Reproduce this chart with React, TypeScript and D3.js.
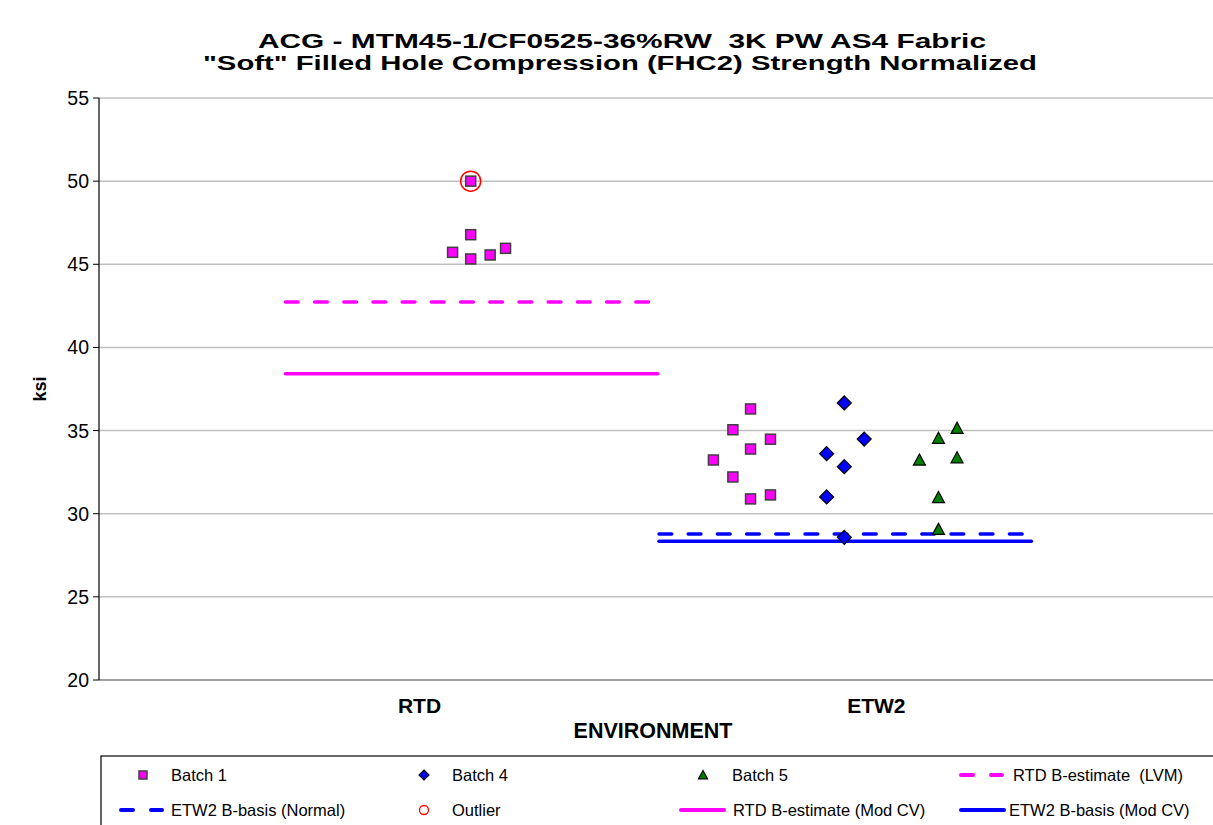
import React from "react";
import * as d3 from "d3";

// Environment categories and their position on the numeric x axis
const categories = ["RTD", "ETW2"];
const categoryX = [1, 2];
const yTicks = [20, 25, 30, 35, 40, 45, 50, 55];

// Batch 1 specimens (x position, strength ksi)
const batch1X = [1.073, 1.113, 1.113, 1.156, 1.19, 1.113, 1.649, 1.692, 1.692, 1.731, 1.731, 1.731, 1.775, 1.775];
const batch1Y = [45.72, 46.78, 45.32, 45.56, 45.96, 50.0, 33.23, 35.05, 32.21, 36.3, 33.89, 30.89, 34.48, 31.13];

// Batch 4 specimens
const batch4X = [1.899, 1.899, 1.938, 1.938, 1.938, 1.982];
const batch4Y = [33.61, 31.01, 36.66, 32.83, 28.58, 34.49];

// Batch 5 specimens
const batch5X = [2.104, 2.146, 2.146, 2.146, 2.187, 2.187];
const batch5Y = [33.23, 34.54, 30.97, 29.06, 35.14, 33.37];

// Outlier
const outlierX = [1.113];
const outlierY = [50.0];

// Basis values: [xStart, xEnd, value]
const rtdLvm = [0.70, 1.53, 42.73];
const rtdModCv = [0.70, 1.53, 38.42];
const etwNormal = [1.525, 2.355, 28.78];
const etwModCv = [1.525, 2.355, 28.34];

const W = 1213;
const H = 825;
const plotLeft = 99;
const plotRight = 1213;
const plotTop = 98;
const plotBottom = 680;

const MAGENTA = "#ff00ff";
const BLUE = "#0000ff";
const GREEN = "#008000";
const FONT = "Liberation Sans, Arial, sans-serif";

const x = d3.scaleLinear().domain([0.29, 2.75]).range([98, 1212]);
const y = d3.scaleLinear().domain([20, 55]).range([plotBottom, plotTop]);

const zip = (xs: number[], ys: number[]) => xs.map((v, i) => [v, ys[i]] as [number, number]);

function Square({ cx, cy, s = 10 }: { cx: number; cy: number; s?: number }) {
  return <rect x={cx - s / 2} y={cy - s / 2} width={s} height={s} fill={MAGENTA} stroke="#404040" strokeWidth={1.5} />;
}
function Diamond({ cx, cy, s = 7 }: { cx: number; cy: number; s?: number }) {
  return <path d={`M${cx},${cy - s}L${cx + s},${cy}L${cx},${cy + s}L${cx - s},${cy}Z`} fill={BLUE} stroke="#000" strokeWidth={1.2} />;
}
function Triangle({ cx, cy, s = 6 }: { cx: number; cy: number; s?: number }) {
  return (
    <path
      d={`M${cx},${cy - s}L${cx + s},${cy + s * 0.85}L${cx - s},${cy + s * 0.85}Z`}
      fill={GREEN}
      stroke="#000"
      strokeWidth={1.2}
    />
  );
}

function BasisLine({ spec, color, dashed }: { spec: number[]; color: string; dashed?: boolean }) {
  const [x0, x1, v] = spec;
  return (
    <line
      x1={x(x0) + 1.7}
      x2={x(x1) - 1.7}
      y1={y(v)}
      y2={y(v)}
      stroke={color}
      strokeWidth={3.4}
      strokeLinecap="round"
      strokeDasharray={dashed ? "12.8,16.4" : undefined}
    />
  );
}

export default function App() {
  const legendText = {
    fontFamily: FONT,
    fontSize: 16.5,
    fill: "#000",
    dominantBaseline: "central" as const,
    style: { whiteSpace: "pre" as const },
  };
  const r1 = 775;
  const r2 = 810;
  return (
    <svg width={W} height={H} style={{ position: "absolute", left: 0, top: 0, background: "#fff" }}>
      <rect width={W} height={H} fill="#fff" />
      {/* Title */}
      <text x={622} y={48} textAnchor="middle" fontFamily={FONT} fontWeight="bold" fontSize={19.5} textLength={728} lengthAdjust="spacingAndGlyphs" style={{ whiteSpace: "pre" }}>
        ACG - MTM45-1/CF0525-36%RW  3K PW AS4 Fabric
      </text>
      <text x={620} y={70} textAnchor="middle" fontFamily={FONT} fontWeight="bold" fontSize={19.5} textLength={834} lengthAdjust="spacingAndGlyphs">
        "Soft" Filled Hole Compression (FHC2) Strength Normalized
      </text>

      {/* Gridlines */}
      {yTicks.map((t) => (
        <line key={t} x1={plotLeft} x2={plotRight} y1={y(t)} y2={y(t)} stroke={t === 20 ? "#808080" : "#c0c0c0"} strokeWidth={1.5} />
      ))}
      {/* Y axis */}
      <line x1={plotLeft} x2={plotLeft} y1={plotTop} y2={plotBottom} stroke="#000" strokeWidth={1.2} />
      {yTicks.map((t) => (
        <g key={"t" + t}>
          <line x1={plotLeft - 6} x2={plotLeft} y1={y(t)} y2={y(t)} stroke="#000" strokeWidth={1} />
          <text x={89} y={y(t)} textAnchor="end" dominantBaseline="central" fontFamily={FONT} fontSize={19.5}>
            {t}
          </text>
        </g>
      ))}
      <text transform={`translate(40,${(plotTop + plotBottom) / 2}) rotate(-90)`} textAnchor="middle" dominantBaseline="central" fontFamily={FONT} fontWeight="bold" fontSize={18}>
        ksi
      </text>

      {/* Category labels */}
      {categories.map((c, i) => (
        <text key={c} x={x(categoryX[i]) + (i === 1 ? 4 : 0)} y={713} textAnchor="middle" fontFamily={FONT} fontWeight="bold" fontSize={21}>
          {c}
        </text>
      ))}
      <text x={653} y={738} textAnchor="middle" fontFamily={FONT} fontWeight="bold" fontSize={21.5}>
        ENVIRONMENT
      </text>

      {/* Basis lines */}
      <BasisLine spec={rtdLvm} color={MAGENTA} dashed />
      <BasisLine spec={rtdModCv} color={MAGENTA} />
      <BasisLine spec={etwNormal} color={BLUE} dashed />
      <BasisLine spec={etwModCv} color={BLUE} />

      {/* Data points */}
      {zip(batch1X, batch1Y).map(([a, b], i) => (
        <Square key={"b1" + i} cx={x(a)} cy={y(b)} />
      ))}
      {zip(batch4X, batch4Y).map(([a, b], i) => (
        <Diamond key={"b4" + i} cx={x(a)} cy={y(b)} />
      ))}
      {zip(batch5X, batch5Y).map(([a, b], i) => (
        <Triangle key={"b5" + i} cx={x(a)} cy={y(b)} />
      ))}
      {zip(outlierX, outlierY).map(([a, b], i) => (
        <circle key={"o" + i} cx={x(a)} cy={y(b)} r={10} fill="none" stroke="#ff0000" strokeWidth={1.5} />
      ))}

      {/* Legend */}
      <rect x={101} y={756} width={1120} height={80} fill="#fff" stroke="#000" strokeWidth={1.2} />
      <Square cx={143} cy={r1} s={8} />
      <text x={171} y={r1} {...legendText}>Batch 1</text>
      <Diamond cx={424} cy={r1} s={5} />
      <text x={452} y={r1} {...legendText}>Batch 4</text>
      <Triangle cx={703} cy={r1} s={4.5} />
      <text x={732} y={r1} {...legendText}>Batch 5</text>
      <line x1={961} x2={1002} y1={r1} y2={r1} stroke={MAGENTA} strokeWidth={4} strokeLinecap="round" strokeDasharray="12,18" />
      <text x={1013} y={r1} {...legendText}>RTD B-estimate  (LVM)</text>

      <line x1={121} x2={162} y1={r2} y2={r2} stroke={BLUE} strokeWidth={4} strokeLinecap="round" strokeDasharray="12,18" />
      <text x={171} y={r2} {...legendText}>ETW2 B-basis (Normal)</text>
      <circle cx={424} cy={r2} r={4.5} fill="none" stroke="#ff0000" strokeWidth={1.3} />
      <text x={452} y={r2} {...legendText}>Outlier</text>
      <line x1={681} x2={724} y1={r2} y2={r2} stroke={MAGENTA} strokeWidth={4} strokeLinecap="round" />
      <text x={733} y={r2} {...legendText}>RTD B-estimate (Mod CV)</text>
      <line x1={961} x2={1004} y1={r2} y2={r2} stroke={BLUE} strokeWidth={4} strokeLinecap="round" />
      <text x={1009} y={r2} {...legendText}>ETW2 B-basis (Mod CV)</text>
    </svg>
  );
}
